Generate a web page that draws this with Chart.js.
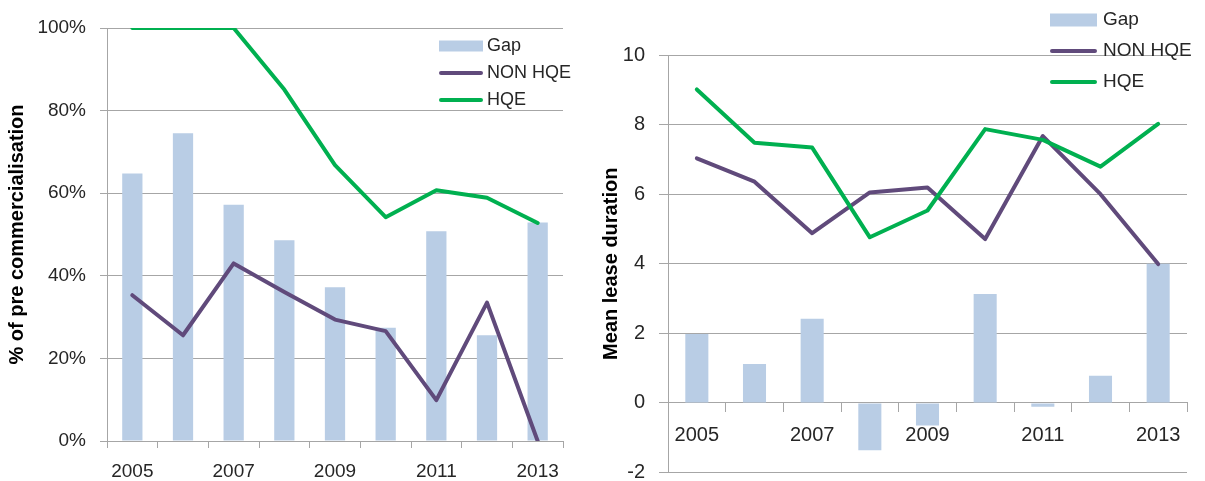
<!DOCTYPE html>
<html>
<head>
<meta charset="utf-8">
<script src="https://cdn.jsdelivr.net/npm/chart.js@4.4.1/dist/chart.umd.min.js"></script>
<style>
  html, body { margin: 0; padding: 0; background: #fff; }
  body { width: 1205px; height: 481px; overflow: hidden; position: relative; }
  #leftChart { position: absolute; left: 0; top: 0; }
  #rightChart { position: absolute; left: 600px; top: 0; }
</style>
</head>
<body>
<canvas id="leftChart" width="600" height="481"></canvas>
<canvas id="rightChart" width="605" height="500"></canvas>
<script>
// ===== data =====
const years = ["2005", "2006", "2007", "2008", "2009", "2010", "2011", "2012", "2013"];
const shownYears = ["2005", "", "2007", "", "2009", "", "2011", "", "2013"];

// left: % of pre commercialisation
const shareGap    = [64.8, 74.5, 57.2, 48.6, 37.2, 27.4, 50.8, 25.6, 52.9];
const shareNonHqe = [35.3, 25.6, 43.0, 36.1, 29.4, 26.6, 9.9, 33.5, 0];
const shareHqe    = [100, 100, 100, 85.1, 66.8, 54.2, 60.7, 58.9, 52.8];

// right: mean lease duration
const leaseGap    = [1.98, 1.12, 2.42, -1.36, -0.65, 3.13, -0.11, 0.78, 4.0];
const leaseNonHqe = [7.03, 6.36, 4.88, 6.05, 6.19, 4.71, 7.67, 6.0, 3.99];
const leaseHqe    = [9.01, 7.48, 7.34, 4.76, 5.53, 7.87, 7.56, 6.79, 8.02];

const FONT = "'Liberation Sans', Arial, sans-serif";
const TEXT = "#262626";
const GRID = "#A6A6A6";
const BAR = "#B9CDE5";
const PURPLE = "#604A7B";
const GREEN = "#00B050";

// legend drawn inside the plot, like the excel original
const cornerLegend = {
  id: "cornerLegend",
  afterDraw(chart, args, opts) {
    const ctx = chart.ctx;
    ctx.save();
    ctx.font = opts.fontSize + "px " + FONT;
    ctx.textBaseline = "middle";
    ctx.textAlign = "left";
    chart.data.datasets.forEach((ds, i) => {
      const y = opts.y + i * opts.gap;
      if (ds.type === "bar") {
        ctx.fillStyle = ds.backgroundColor;
        ctx.fillRect(opts.x, y - opts.boxH / 2, opts.w, opts.boxH);
      } else {
        ctx.strokeStyle = ds.borderColor;
        ctx.lineWidth = 4;
        ctx.lineCap = "round";
        ctx.beginPath();
        ctx.moveTo(opts.x + 2, y);
        ctx.lineTo(opts.x + opts.w - 2, y);
        ctx.stroke();
      }
      ctx.fillStyle = TEXT;
      ctx.fillText(ds.label, opts.x + opts.w + opts.textGap, y);
    });
    ctx.restore();
  }
};

function datasets(gap, nonHqe, hqe) {
  return [
    { type: "bar", label: "Gap", data: gap, backgroundColor: BAR, order: 3,
      barPercentage: 0.4, categoryPercentage: 1 },
    { type: "line", label: "NON HQE", data: nonHqe, borderColor: PURPLE, borderWidth: 4,
      pointRadius: 0, tension: 0, borderJoinStyle: "round", borderCapStyle: "round", order: 2 },
    { type: "line", label: "HQE", data: hqe, borderColor: GREEN, borderWidth: 4,
      pointRadius: 0, tension: 0, borderJoinStyle: "round", borderCapStyle: "round", order: 1 }
  ];
}

// ===== left chart =====
new Chart(document.getElementById("leftChart"), {
  type: "bar",
  data: { labels: years, datasets: datasets(shareGap, shareNonHqe, shareHqe) },
  plugins: [cornerLegend],
  options: {
    responsive: false,
    animation: false,
    layout: { padding: { top: 28, right: 37, bottom: 0, left: 0 } },
    plugins: {
      legend: { display: false },
      tooltip: { enabled: false },
      cornerLegend: { x: 439, y: 46, gap: 27, w: 44, boxH: 11, textGap: 4, fontSize: 18 }
    },
    scales: {
      x: {
        offset: true,
        grid: { drawOnChartArea: false, offset: true, tickLength: 7, color: GRID },
        border: { color: GRID },
        ticks: { autoSkip: false, maxRotation: 0, padding: 12, color: TEXT,
          font: { size: 19, family: FONT }, callback: (v, i) => shownYears[i] },
        afterFit: s => { s.height = 40; }
      },
      y: {
        min: 0, max: 100,
        grid: { color: GRID, tickLength: 7 },
        border: { color: GRID },
        ticks: { stepSize: 20, padding: 14, color: TEXT, font: { size: 19, family: FONT },
          callback: v => v + "%" },
        title: { display: true, text: "% of pre commercialisation", color: "#000",
          font: { size: 20, weight: "bold", family: FONT }, padding: { top: 5, bottom: 0 } },
        afterFit: s => { s.width = 107; }
      }
    }
  }
});

// ===== right chart =====
new Chart(document.getElementById("rightChart"), {
  type: "bar",
  data: { labels: years, datasets: datasets(leaseGap, leaseNonHqe, leaseHqe) },
  plugins: [cornerLegend],
  options: {
    responsive: false,
    animation: false,
    layout: { padding: { top: 55, right: 18, bottom: 27.5, left: 0 } },
    plugins: {
      legend: { display: false },
      tooltip: { enabled: false },
      cornerLegend: { x: 450, y: 20, gap: 31, w: 47, boxH: 13, textGap: 6, fontSize: 19 }
    },
    scales: {
      x: {
        position: { y: 0 },
        offset: true,
        grid: { drawOnChartArea: false, offset: true, tickLength: 9, color: GRID },
        border: { color: GRID },
        ticks: { autoSkip: false, maxRotation: 0, padding: 12, color: TEXT,
          font: { size: 20, family: FONT }, callback: (v, i) => shownYears[i] }
      },
      y: {
        min: -2, max: 10,
        grid: { color: GRID, tickLength: 9 },
        border: { color: GRID },
        ticks: { stepSize: 2, padding: 14, color: TEXT, font: { size: 20, family: FONT } },
        title: { display: true, text: "Mean lease duration", color: "#000",
          font: { size: 20, weight: "bold", family: FONT, lineHeight: 1.1 }, padding: { top: 0, bottom: 0 } },
        afterFit: s => { s.width = 68; }
      }
    }
  }
});
</script>
</body>
</html>
